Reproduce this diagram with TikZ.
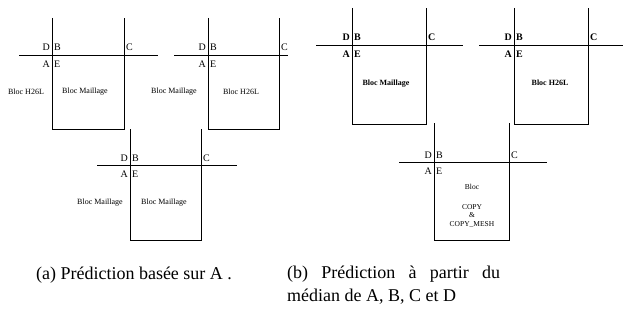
\documentclass[tikz,border=0pt]{standalone}
\usepackage{fontspec}
\setmainfont{Liberation Serif}

% one neighbourhood: left edge, right edge, line y, top, bottom, line start, line end, font
\newcommand{\voisinage}[8]{%
  \draw[trait] (#6,#3) -- (#7,#3);
  \draw[trait] (#1,#4) -- (#1,#5) -- (#2,#5) -- (#2,#4);
  \node[lettre,anchor=base east] at (#1-2,#3-4) {#8D};
  \node[lettre,anchor=base west] at (#1+2,#3-4) {#8B};
  \node[lettre,anchor=base west] at (#2+2,#3-4) {#8C};
  \node[lettre,anchor=base east] at (#1-2,#3+12) {#8A};
  \node[lettre,anchor=base west] at (#1+2,#3+12) {#8E};
}

\begin{document}
\begin{tikzpicture}[x=1pt,y=-1pt,
  trait/.style={line width=0.9pt},
  lettre/.style={font=\fontsize{10}{12}\selectfont,inner sep=0pt},
  bloc/.style={font=\fontsize{8}{9}\selectfont,inner sep=0pt,align=center},
  legende/.style={font=\fontsize{18}{23}\selectfont,inner sep=0pt}]

\useasboundingbox (0,0) rectangle (623,329);

% (a) first row
\voisinage{52}{124}{55}{18}{129}{19}{158}{}
\node[bloc] (h26la) at (26,92) {Bloc H26L};
\node[bloc] (mailla) at (85,92) {Bloc Maillage};

\voisinage{208}{279}{55}{18}{129}{174}{288}{}
\node[bloc] (maillb) at (174,92) {Bloc Maillage};
\node[bloc] (h26lb) at (241,92) {Bloc H26L};

% (a) second row
\voisinage{130}{201}{165}{129}{240}{97}{237}{}
\node[bloc] (maillc) at (100,203) {Bloc Maillage};
\node[bloc] (mailld) at (164,203) {Bloc Maillage};

% (b) first row
\voisinage{352}{426}{45}{8}{124}{316}{463}{\bfseries}
\node[bloc,font=\fontsize{8}{9}\selectfont\bfseries] (maille) at (386,84) {Bloc Maillage};

\voisinage{514}{588}{45}{8}{124}{479}{623}{\bfseries}
\node[bloc,font=\fontsize{8}{9}\selectfont\bfseries] (h26lc) at (550,83) {Bloc H26L};

% (b) second row
\voisinage{434}{509}{162}{123}{240}{399}{547}{}
\node[bloc,font=\fontsize{7.5}{8.5}\selectfont] (copie) at (472,187) {Bloc};
\node[bloc,font=\fontsize{7.5}{8.5}\selectfont,anchor=north] (copymesh) at (472,204)
  {COPY\\\&\\COPY\_MESH};

% captions
\node[legende,anchor=base] (lega) at (134,279) {(a) Prédiction basée sur A .};
\node[legende,anchor=north west,text width=213pt,align=justify] (legb) at (287,266)
  {(b) Prédiction à partir du\linebreak médian de A, B, C et D};

\end{tikzpicture}
\end{document}
